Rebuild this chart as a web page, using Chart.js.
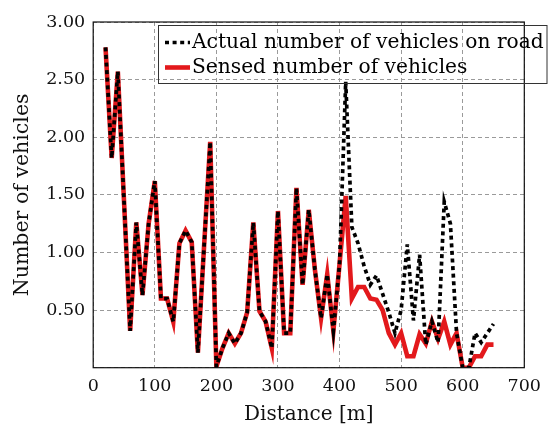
<!DOCTYPE html>
<html>
<head>
<meta charset="utf-8">
<script src="https://cdn.jsdelivr.net/npm/chart.js@4.4.1/dist/chart.umd.min.js"></script>
<style>
  html, body { margin: 0; padding: 0; background: #fff; }
  #wrap { width: 549px; height: 428px; }
</style>
</head>
<body>
<div id="wrap"><canvas id="c" width="549" height="428"></canvas></div>
<script>
// Distance along the road (m)
const distance = [20, 30, 40, 50, 60, 70, 80, 90, 100, 110, 120, 130, 140, 150, 160, 170,
  180, 190, 200, 210, 220, 230, 240, 250, 260, 270, 280, 290, 300, 310, 320, 330,
  340, 350, 360, 370, 380, 390, 400, 410, 420, 430, 440, 450, 460, 470, 480, 490,
  500, 510, 520, 530, 540, 550, 560, 570, 580, 590, 600, 610, 620, 630, 640, 650];

// Vehicles actually present on the road
const actualVehicles = [2.78, 1.82, 2.57, 1.45, 0.32, 1.26, 0.63, 1.25, 1.62, 0.60, 0.60, 0.40, 1.08, 1.19, 1.09, 0.13,
  1.05, 1.96, 0.01, 0.17, 0.30, 0.21, 0.30, 0.48, 1.26, 0.49, 0.40, 0.17, 1.36, 0.30, 0.30, 1.56,
  0.72, 1.37, 0.85, 0.43, 0.81, 0.32, 0.90, 2.48, 1.22, 1.08, 0.88, 0.72, 0.80, 0.64, 0.48, 0.30,
  0.50, 1.07, 0.41, 0.98, 0.20, 0.40, 0.22, 1.44, 1.25, 0.30, 0.00, 0.00, 0.30, 0.22, 0.30, 0.38];

// Vehicles detected by the sensing scheme
const sensedVehicles = [2.78, 1.82, 2.57, 1.45, 0.32, 1.26, 0.63, 1.25, 1.62, 0.60, 0.60, 0.40, 1.08, 1.19, 1.09, 0.13,
  1.05, 1.96, 0.01, 0.17, 0.30, 0.21, 0.30, 0.48, 1.26, 0.49, 0.40, 0.17, 1.36, 0.30, 0.30, 1.56,
  0.72, 1.37, 0.85, 0.43, 0.81, 0.32, 0.90, 1.49, 0.60, 0.70, 0.70, 0.60, 0.59, 0.50, 0.30, 0.20,
  0.30, 0.10, 0.10, 0.29, 0.21, 0.40, 0.25, 0.40, 0.20, 0.30, 0.00, 0.00, 0.10, 0.10, 0.20, 0.20];

const xTicks = [0, 100, 200, 300, 400, 500, 600, 700];
const yTicks = [0.5, 1.0, 1.5, 2.0, 2.5, 3.0];

const SERIF = '"DejaVu Serif", "Liberation Serif", serif';

const toPoints = (ys) => distance.map((d, i) => ({ x: d, y: ys[i] }));

// Box around the plotting area
const framePlugin = {
  id: 'frame',
  afterDatasetsDraw(chart) {
    const { ctx, chartArea: a } = chart;
    ctx.save();
    ctx.strokeStyle = '#111';
    ctx.lineWidth = 1.2;
    ctx.strokeRect(a.left, a.top, a.right - a.left, a.bottom - a.top);
    ctx.restore();
  }
};

// Legend box in the upper part of the plot
const legendBoxPlugin = {
  id: 'legendBox',
  afterDraw(chart) {
    const { ctx } = chart;
    const box = { left: 158.5, top: 25.5, right: 547, bottom: 83.5 };
    ctx.save();
    ctx.strokeStyle = '#333';
    ctx.lineWidth = 1;
    ctx.strokeRect(box.left, box.top, box.right - box.left, box.bottom - box.top);
    const rows = [42.5, 67.5];
    chart.data.datasets.forEach((ds, i) => {
      const y = rows[i];
      ctx.beginPath();
      ctx.strokeStyle = ds.borderColor;
      ctx.lineWidth = ds.borderWidth;
      ctx.setLineDash(ds.borderDash || []);
      ctx.moveTo(165, y);
      ctx.lineTo(190, y);
      ctx.stroke();
      ctx.setLineDash([]);
      ctx.fillStyle = '#000';
      ctx.font = '20.2px ' + SERIF;
      ctx.textBaseline = 'middle';
      ctx.textAlign = 'left';
      ctx.fillText(ds.label, 192, y);
    });
    ctx.restore();
  }
};

new Chart(document.getElementById('c'), {
  type: 'line',
  data: {
    datasets: [
      {
        label: 'Actual number of vehicles on road',
        data: toPoints(actualVehicles),
        borderColor: '#000',
        borderWidth: 3.7,
        borderDash: [4, 3.6],
        borderCapStyle: 'butt',
        borderJoinStyle: 'miter',
        pointRadius: 0,
        tension: 0,
        fill: false
      },
      {
        label: 'Sensed number of vehicles',
        data: toPoints(sensedVehicles),
        borderColor: '#e3191c',
        borderWidth: 4.6,
        borderJoinStyle: 'miter',
        pointRadius: 0,
        tension: 0,
        fill: false
      }
    ]
  },
  options: {
    responsive: false,
    animation: false,
    events: [],
    layout: { padding: { top: 22, right: 16.8, left: 0, bottom: 0 } },
    plugins: { legend: { display: false }, tooltip: { enabled: false } },
    scales: {
      x: {
        type: 'linear',
        min: 0,
        max: 700,
        afterBuildTicks(scale) { scale.ticks = xTicks.map(v => ({ value: v })); },
        afterFit(scale) { scale.height = 60.3; },
        ticks: {
          color: '#111',
          padding: 8,
          font: { family: SERIF, size: 17.5 },
          maxRotation: 0,
          callback: (v) => String(v)
        },
        grid: { color: '#9a9a9a', lineWidth: 1, drawTicks: false },
        border: { display: false, dash: [4, 3] },
        title: {
          display: true,
          text: 'Distance [m]',
          color: '#111',
          font: { family: SERIF, size: 20 },
          padding: { top: 0, bottom: 1 }
        }
      },
      y: {
        type: 'linear',
        min: 0,
        max: 3,
        afterBuildTicks(scale) { scale.ticks = [0].concat(yTicks).map(v => ({ value: v })); },
        afterFit(scale) { scale.width = 93.2; },
        ticks: {
          color: '#111',
          padding: 8,
          font: { family: SERIF, size: 17.5 },
          callback: (v) => (v === 0 ? '' : Number(v).toFixed(2))
        },
        grid: { color: '#9a9a9a', lineWidth: 1, drawTicks: false },
        border: { display: false, dash: [4, 3] },
        title: {
          display: true,
          text: 'Number of vehicles',
          color: '#111',
          font: { family: SERIF, size: 20.5 },
          padding: { top: 10, bottom: 0 }
        }
      }
    }
  },
  plugins: [framePlugin, legendBoxPlugin]
});
</script>
</body>
</html>
